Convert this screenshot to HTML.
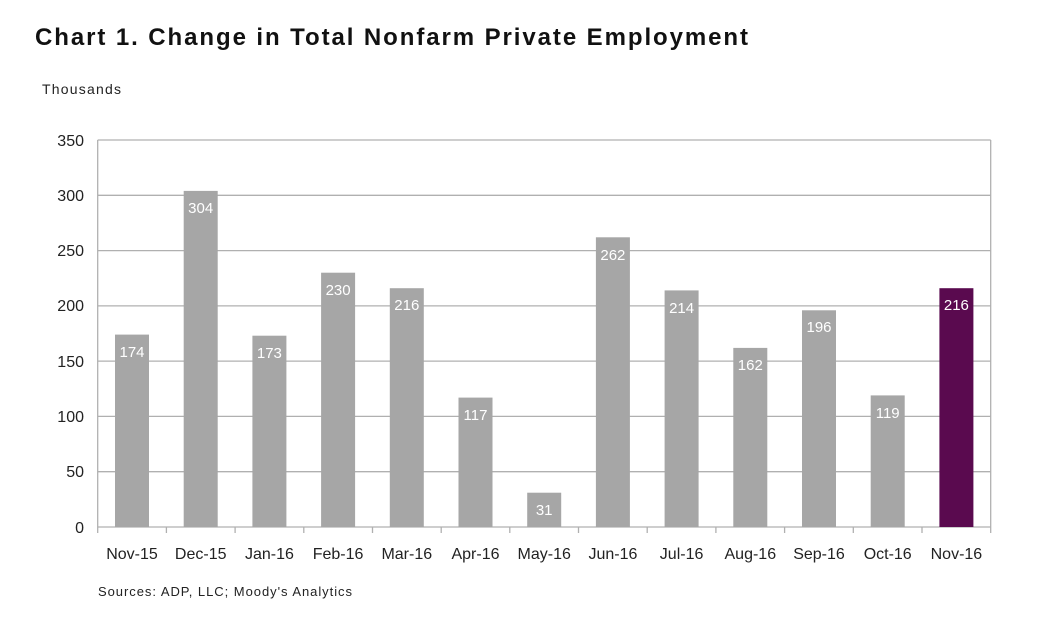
<!DOCTYPE html>
<html><head><style>body{margin:0;background:#fff}</style></head><body>
<svg width="1050" height="616" xmlns="http://www.w3.org/2000/svg" font-family="Liberation Sans, Arial, sans-serif">
<rect width="1050" height="616" fill="#fff"/>
<text x="35" y="45" font-size="24" font-weight="bold" fill="#111" textLength="713" lengthAdjust="spacing">Chart 1. Change in Total Nonfarm Private Employment</text>
<text x="42" y="94" font-size="14" fill="#222" textLength="79">Thousands</text>
<g stroke="#b0b0b0" stroke-width="1.3">
<line x1="97.7" y1="140" x2="990.7" y2="140"/>
<line x1="97.7" y1="195.3" x2="990.7" y2="195.3"/>
<line x1="97.7" y1="250.6" x2="990.7" y2="250.6"/>
<line x1="97.7" y1="305.9" x2="990.7" y2="305.9"/>
<line x1="97.7" y1="361.1" x2="990.7" y2="361.1"/>
<line x1="97.7" y1="416.4" x2="990.7" y2="416.4"/>
<line x1="97.7" y1="471.7" x2="990.7" y2="471.7"/>
<line x1="97.7" y1="527" x2="990.7" y2="527"/>
<line x1="97.7" y1="140" x2="97.7" y2="527"/>
<line x1="990.7" y1="140" x2="990.7" y2="533"/>
<line x1="97.7" y1="527" x2="97.7" y2="533"/>
<line x1="166.4" y1="527" x2="166.4" y2="533"/>
<line x1="235.1" y1="527" x2="235.1" y2="533"/>
<line x1="303.8" y1="527" x2="303.8" y2="533"/>
<line x1="372.5" y1="527" x2="372.5" y2="533"/>
<line x1="441.2" y1="527" x2="441.2" y2="533"/>
<line x1="509.8" y1="527" x2="509.8" y2="533"/>
<line x1="578.5" y1="527" x2="578.5" y2="533"/>
<line x1="647.2" y1="527" x2="647.2" y2="533"/>
<line x1="715.9" y1="527" x2="715.9" y2="533"/>
<line x1="784.6" y1="527" x2="784.6" y2="533"/>
<line x1="853.3" y1="527" x2="853.3" y2="533"/>
<line x1="922.0" y1="527" x2="922.0" y2="533"/>
</g>
<g font-size="16" fill="#222" text-anchor="end">
<text x="84" y="146">350</text><text x="84" y="201">300</text><text x="84" y="256">250</text><text x="84" y="311">200</text><text x="84" y="367">150</text><text x="84" y="422">100</text><text x="84" y="477">50</text><text x="84" y="533">0</text>
</g>
<g fill="#a6a6a6">
<rect x="115.0" y="334.6" width="34" height="192.4"/>
<rect x="183.7" y="190.9" width="34" height="336.1"/>
<rect x="252.4" y="335.7" width="34" height="191.3"/>
<rect x="321.1" y="272.7" width="34" height="254.3"/>
<rect x="389.8" y="288.2" width="34" height="238.8"/>
<rect x="458.5" y="397.6" width="34" height="129.4"/>
<rect x="527.2" y="492.7" width="34" height="34.3"/>
<rect x="595.9" y="237.3" width="34" height="289.7"/>
<rect x="664.6" y="290.4" width="34" height="236.6"/>
<rect x="733.3" y="347.9" width="34" height="179.1"/>
<rect x="802.0" y="310.3" width="34" height="216.7"/>
<rect x="870.7" y="395.4" width="34" height="131.6"/>
</g>
<rect x="939.4" y="288.2" width="34" height="238.8" fill="#5a0a4f"/>
<g font-size="15" fill="#fff" text-anchor="middle">
<text x="132.0" y="357">174</text>
<text x="200.7" y="213">304</text>
<text x="269.4" y="358">173</text>
<text x="338.1" y="295">230</text>
<text x="406.8" y="310">216</text>
<text x="475.5" y="420">117</text>
<text x="544.2" y="515">31</text>
<text x="612.9" y="260">262</text>
<text x="681.6" y="313">214</text>
<text x="750.3" y="370">162</text>
<text x="819.0" y="332">196</text>
<text x="887.7" y="418">119</text>
<text x="956.4" y="310">216</text>
</g>
<g font-size="16" fill="#222" text-anchor="middle">
<text x="132.0" y="559">Nov-15</text>
<text x="200.7" y="559">Dec-15</text>
<text x="269.4" y="559">Jan-16</text>
<text x="338.1" y="559">Feb-16</text>
<text x="406.8" y="559">Mar-16</text>
<text x="475.5" y="559">Apr-16</text>
<text x="544.2" y="559">May-16</text>
<text x="612.9" y="559">Jun-16</text>
<text x="681.6" y="559">Jul-16</text>
<text x="750.3" y="559">Aug-16</text>
<text x="819.0" y="559">Sep-16</text>
<text x="887.7" y="559">Oct-16</text>
<text x="956.4" y="559">Nov-16</text>
</g>
<text x="98" y="596" font-size="13" fill="#222" textLength="254">Sources: ADP, LLC; Moody's Analytics</text>
</svg>
</body></html>
